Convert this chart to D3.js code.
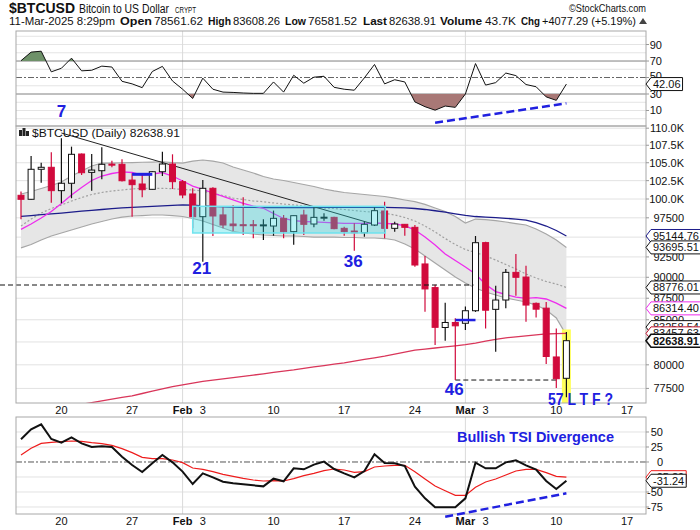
<!DOCTYPE html>
<html><head><meta charset="utf-8">
<script src="https://cdn.jsdelivr.net/npm/d3@7"></script>
<style>
body{margin:0;background:#fff}
svg{display:block}
text{font-family:"Liberation Sans",Arial,sans-serif;fill:#111}
.narrow{font-family:"Liberation Sans Narrow","Arial Narrow","Liberation Sans",Arial,sans-serif}
</style>
</head><body>
<svg id="chart" width="700" height="530"></svg>
<script>
// ---------------- DATA ----------------
const dates = ["2025-01-16","2025-01-17","2025-01-18","2025-01-19","2025-01-20","2025-01-21","2025-01-22","2025-01-23","2025-01-24","2025-01-25","2025-01-26","2025-01-27","2025-01-28","2025-01-29","2025-01-30","2025-01-31",
"2025-02-01","2025-02-02","2025-02-03","2025-02-04","2025-02-05","2025-02-06","2025-02-07","2025-02-08","2025-02-09","2025-02-10","2025-02-11","2025-02-12","2025-02-13","2025-02-14","2025-02-15","2025-02-16","2025-02-17","2025-02-18","2025-02-19","2025-02-20","2025-02-21","2025-02-22","2025-02-23","2025-02-24","2025-02-25","2025-02-26","2025-02-27","2025-02-28",
"2025-03-01","2025-03-02","2025-03-03","2025-03-04","2025-03-05","2025-03-06","2025-03-07","2025-03-08","2025-03-09","2025-03-10","2025-03-11"];
const open  = [100500,99960,104080,104360,101130,102140,106240,103650,103880,104800,104780,102580,102040,101310,103740,104820,102360,100680,97650,101450,97880,96690,96600,96600,96540,96430,97430,95700,97870,96690,97540,97560,96130,95780,95560,96560,98400,96130,96650,96260,91630,88760,84120,84690,84600,86040,94300,86200,87290,90600,90030,86900,86340,80850,78561.62];
const high  = [101000,105960,105010,106500,108520,107300,106300,106240,107210,105290,105500,103520,103420,103800,106550,106200,102580,101450,102580,101600,99060,99200,100230,97210,97300,98450,97870,97800,98580,98900,98090,97650,96350,96780,97040,98900,99640,97000,96700,96560,92620,89100,86970,85170,86520,95140,94400,88980,91000,92860,91420,87000,87070,84000,83608.26];
const low   = [97300,99900,102220,99500,99420,100100,103280,101130,102680,104360,102400,97650,100230,101300,103150,101350,100100,96130,91900,95140,96130,95780,95270,94850,94620,95180,94850,94040,95270,96260,97100,96000,95180,93280,95050,96430,94850,95700,95180,91300,85920,82160,82630,78380,83840,85900,84000,81420,86320,87800,84780,85250,80080,77530,76581.52];
const close = [99960,104080,104360,101130,102140,106200,103600,103970,104780,104760,102490,101950,101260,103740,104820,102360,100540,97650,101450,97740,96560,96470,96520,96540,96580,97430,95700,97780,96650,97560,97580,96090,95700,95560,96650,98440,96130,96690,96260,91500,88600,84140,84690,84310,86040,94290,86100,87290,90600,90000,86700,86220,80900,78520,82638.91];

const bbUpper  = [100680,101020,101430,101830,102320,103140,103840,104540,104960,104960,105000,105030,105070,105100,105140,105030,104960,105240,105390,105240,104960,104400,103980,103560,103070,102730,102520,102250,101970,101700,101360,101090,100880,100740,100610,100470,100340,100130,99870,99640,99270,98800,98330,97670,96820,97340,97270,97140,96950,96750,96560,96040,95400,94630,93695.51];
const bbMiddle = [96430,97340,98130,98730,99200,99730,100200,100610,100880,101090,101220,101360,101450,101450,101450,101400,101290,101220,101090,100740,100470,100130,99930,99730,99640,99470,99330,99200,99060,98930,98800,98730,98600,98460,98330,98230,98110,97870,97540,97080,96430,95660,94820,94060,93430,93050,92620,92120,91560,91010,90400,89910,89490,89190,88776.01];
const bbLower  = [93630,94060,94630,95140,95530,95910,96300,96690,97020,97340,97600,97740,97800,97870,97870,97800,97670,97410,97080,96620,96170,95720,95530,95400,95270,95210,95140,95140,95080,95010,95010,95010,94950,94950,94890,94890,94820,94630,94130,93500,92620,91750,90890,90040,89310,88710,88240,87880,87530,87290,87060,86700,86120,85200,83258.54];
const ema20    = [96000,96690,97480,98330,99400,100540,101560,102520,103140,103490,103730,103630,103280,103420,103600,103140,102450,101760,101290,100810,100340,99870,99400,99060,98760,98070,97410,97140,97020,96980,96910,96850,96780,96780,96780,96820,96780,96690,96490,95910,95010,94000,92870,92060,91260,90400,89130,88280,87940,87640,87480,87580,87410,86930,86314.40];
const sma50    = [97700,97800,97910,98010,98130,98260,98370,98490,98600,98700,98800,98880,98950,99010,99080,99150,99200,99170,99090,99010,98960,98900,98890,98880,98860,98850,98840,98840,98850,98860,98880,98890,98890,98890,98890,98890,98880,98850,98800,98730,98600,98430,98240,98030,97830,97670,97600,97520,97430,97340,97210,96880,96430,95850,95144.76];
const sma200   = [74820,75000,75170,75330,75520,75690,75860,76030,76210,76380,76560,76720,76970,77210,77460,77690,77880,78050,78230,78370,78500,78630,78770,78900,79040,79180,79320,79450,79610,79770,79920,80080,80220,80390,80580,80760,80940,81150,81370,81590,81710,81830,81960,82070,82200,82370,82580,82790,82960,83070,83180,83300,83390,83420,83457.63];

const rsi = [70.4,80.8,81.9,56.9,61.2,73.5,58.1,58.8,63.8,62.7,45.4,42.3,37.7,57.3,63.5,45.8,35.8,24.6,49.2,35.8,32.3,31.9,31.2,30.8,30.8,44.6,32.3,52.7,43.1,50.4,51.5,38.1,35.8,34.6,49.6,65.8,42.3,47.3,44.6,20.4,14.6,10.4,15.4,13.8,30.0,66.9,40.8,43.8,55.4,52.3,41.5,38.8,26.5,22.3,42.06];
const tsi = [37.8,54.4,62.8,38.3,32.2,41.1,31.1,25.0,26.1,25.0,8.9,-5.0,-16.7,-2.2,11.7,-0.6,-16.0,-36.7,-18.9,-25.6,-32.8,-35.6,-37.2,-38.9,-40.6,-27.8,-32.2,-10.6,-12.2,-4.4,0.6,-11.7,-18.9,-25.6,-15.0,12.8,-1.7,-2.2,-6.7,-41.1,-60.6,-75.6,-75.6,-75.6,-60.6,-1.1,-10.6,-10.6,-0.6,2.8,-5.6,-12.8,-31.7,-45.0,-31.24];
const tsiSignal = [11.7,22.8,31.1,32.8,33.9,35.0,34.4,32.2,30.6,27.8,22.2,15.6,7.8,5.6,5.6,3.3,-1.1,-10.0,-12.2,-16.1,-20.6,-23.9,-27.2,-30.0,-31.7,-31.1,-31.7,-27.8,-22.8,-18.9,-14.4,-11.7,-13.3,-17.2,-16.1,-8.3,-6.7,-5.6,-5.6,-16.1,-28.3,-40.0,-47.8,-55.6,-55.6,-42.2,-33.3,-28.3,-21.7,-15.0,-12.2,-12.2,-17.8,-23.9,-25.29];

const priceTicks = [77500,80000,82500,85000,87500,90000,92500,95000,97500,100000,102500,105000,107500,110000];
const priceTickLabels = ["77500","80000","82500","85000","87500","90000","92500","95000","97500","100.0K","102.5K","105.0K","107.5K","110.0K"];
const rsiGrid = [0,10,20,40,60,80,90,100];
const rsiTicks = [90,70,50,30,10];
const tsiTicks = [50,25,0,-25,-50,-75];
const weekTicks = ["2025-01-20","2025-01-27","2025-02-03","2025-02-10","2025-02-17","2025-02-24","2025-03-03","2025-03-10","2025-03-17"];
const weekTickLabels = ["20","27","3","10","17","24","3","10","17"];
const monthTicks = ["2025-02-01","2025-03-01"];
const monthTickLabels = ["Feb","Mar"];
const priceTags = [["95144.76",95144.76,"#1c1c8a"],["93695.51",93695.51,"#111"],["88776.01",88776.01,"#111"],["86314.40",86314.40,"#ee2cee"],["83258.54",83258.54,"#111"],["83457.63",83457.63,"#c0102a"],["82638.91",82638.91,"#111"]];
const tsiTags = [["-25.29",-25.29,"#ee1c1c"],["-31.24",-31.24,"#111"]];

// ---------------- LAYOUT ----------------
const L = 16, R = 646;
const RSI = [31,126], MAIN = [126,403], TSI = [417,514];
const parse = d3.utcParse("%Y-%m-%d");
const D = dates.map(parse);
const x = d3.scaleUtc().domain([D[0], D[D.length-1]]).range([21, 566.4]);
const yP = d3.scaleLog().domain([75993,110323]).range([MAIN[1], MAIN[0]]);
const yR = d3.scaleLinear().domain([-8.8,106.4]).range([RSI[1], RSI[0]]);
const yT = d3.scaleLinear().domain([-86.67,75]).range([TSI[1], TSI[0]]);
const BLUE = "#2020e0";

const svg = d3.select("#chart");
const defs = svg.append("defs");
function clip(id, y0, y1){
  defs.append("clipPath").attr("id",id).append("rect").attr("x",L).attr("y",y0).attr("width",R-L).attr("height",y1-y0);
}
clip("cR",RSI[0],RSI[1]); clip("cM",MAIN[0],MAIN[1]); clip("cT",TSI[0],TSI[1]);
defs.append("clipPath").attr("id","cRhi").append("rect").attr("x",L).attr("y",RSI[0]).attr("width",R-L).attr("height",yR(70)-RSI[0]);
defs.append("clipPath").attr("id","cRlo").append("rect").attr("x",L).attr("y",yR(30)).attr("width",R-L).attr("height",RSI[1]-yR(30));

function hline(g,y,color,dash,w){
  g.append("line").attr("x1",L).attr("x2",R).attr("y1",y).attr("y2",y)
   .attr("stroke",color).attr("stroke-width",w||1).attr("stroke-dasharray",dash||null);
}
function monthLines(g,y0,y1){
  monthTicks.forEach(m=>{ const xx=x(parse(m));
    g.append("line").attr("x1",xx).attr("x2",xx).attr("y1",y0).attr("y2",y1).attr("stroke","#dadada"); });
}
function tag(y, txt, color, bold){
  const g = svg.append("g");
  const t = g.append("text").attr("x",653).attr("y",y+4).attr("font-size",11)
    .attr("font-weight",bold?"bold":null).text(txt);
  const w = t.node().getComputedTextLength();
  g.insert("path","text").attr("d",`M646,${y}L651,${y-6.5}H${655+w}V${y+6.5}H651Z`)
    .attr("fill","#fff").attr("stroke",color).attr("stroke-width",bold?1.6:1);
}
const hiddenBy = (y, ys) => ys.some(t=>Math.abs(t-y)<5.5);
const xi = (d,i)=>x(D[i]);

// ---------------- HEADER ----------------
svg.append("text").attr("class","narrow").attr("x",9).attr("y",13).attr("font-size",15).attr("font-weight","bold")
  .attr("textLength",66).attr("lengthAdjust","spacingAndGlyphs").text("$BTCUSD");
svg.append("text").attr("class","narrow").attr("x",79).attr("y",13).attr("font-size",12)
  .attr("textLength",90).attr("lengthAdjust","spacingAndGlyphs").text("Bitcoin to US Dollar");
svg.append("text").attr("x",175).attr("y",13).attr("font-size",9)
  .attr("textLength",21).attr("lengthAdjust","spacingAndGlyphs").text("CRYPT");
svg.append("text").attr("class","narrow").attr("x",569).attr("y",12).attr("font-size",11).attr("fill","#333")
  .attr("textLength",77).attr("lengthAdjust","spacingAndGlyphs").text("©StockCharts.com");
const hdr = [
  ["11-Mar-2025 8:29pm",9,106,false],["Open",120,32,true],["78561.62",154,49,false],
  ["High",208,23,true],["83608.26",233,47,false],["Low",285,21,true],["76581.52",308,49,false],
  ["Last",363,24,true],["82638.91",389,47,false],["Volume",440,42,true],["43.7K",485,31,false],
  ["Chg",521,19,true],["+4077.29 (+5.19%)",542,94,false]];
hdr.forEach(h=>svg.append("text").attr("class","narrow").attr("x",h[1]).attr("y",25).attr("font-size",11)
  .attr("font-weight",h[3]?"bold":null).attr("textLength",h[2]).attr("lengthAdjust","spacingAndGlyphs").text(h[0]));
svg.append("path").attr("d","M639,24L643,18L647,24Z").attr("fill","#444");

// ---------------- RSI PANEL ----------------
const gR = svg.append("g");
rsiGrid.forEach(v=>hline(gR,yR(v),"#e4e4e4"));
monthLines(gR,RSI[0],RSI[1]);
hline(gR,yR(70),"#808080"); hline(gR,yR(30),"#808080");
hline(gR,yR(50),"#666","6,2,2,2");
const rsiArea = y0 => d3.area().x(xi).y0(y0).y1(d=>yR(d));
gR.append("path").attr("d",rsiArea(yR(70))(rsi)).attr("fill","#6e9169").attr("clip-path","url(#cRhi)");
gR.append("path").attr("d",rsiArea(yR(30))(rsi)).attr("fill","#a87876").attr("clip-path","url(#cRlo)");
gR.append("path").attr("d",d3.line().x(xi).y(d=>yR(d))(rsi)).attr("fill","none").attr("stroke","#111").attr("stroke-width",1).attr("clip-path","url(#cR)");
gR.append("rect").attr("x",L).attr("y",RSI[0]).attr("width",R-L).attr("height",RSI[1]-RSI[0]).attr("fill","none").attr("stroke","#a8a8a8");
rsiTicks.forEach(v=>{
  gR.append("text").attr("x",662).attr("y",yR(v)+(v===50?2.5:4)).attr("font-size",11).attr("text-anchor","end").text(v);
  gR.append("line").attr("x1",R).attr("x2",R+3).attr("y1",yR(v)).attr("y2",yR(v)).attr("stroke","#999");
});
gR.append("line").attr("x1",x(parse("2025-02-26"))).attr("y1",yR(-4.8)).attr("x2",x(parse("2025-03-11"))).attr("y2",yR(18.7))
  .attr("stroke",BLUE).attr("stroke-width",2.5).attr("stroke-dasharray","8,4");
gR.append("text").attr("x",x(parse("2025-01-20"))).attr("y",yR(2.1)).attr("text-anchor","middle")
  .attr("font-size",17).attr("font-weight","bold").style("fill",BLUE).text("7");
tag(yR(42.06),"42.06","#111",false);

// ---------------- MAIN PANEL ----------------
const gM = svg.append("g");
priceTicks.forEach(v=>hline(gM,yP(v),"#e2e2e2"));
monthLines(gM,MAIN[0],MAIN[1]);
const gMc = gM.append("g").attr("clip-path","url(#cM)");
gMc.append("path").attr("d",d3.area().x(xi).y0((d,i)=>yP(bbLower[i])).y1(d=>yP(d))(bbUpper)).attr("fill","#e6e6e6");
[bbUpper,bbLower].forEach(s=>gMc.append("path").attr("d",d3.line().x(xi).y(d=>yP(d))(s)).attr("fill","none").attr("stroke","#a6a6a6").attr("stroke-width",1.2));
gMc.append("path").attr("d",d3.line().x(xi).y(d=>yP(d))(bbMiddle)).attr("fill","none").attr("stroke","#a0a0a0").attr("stroke-width",1.2).attr("stroke-dasharray","2,2");
const lastX = x(D[D.length-1]);
gMc.append("rect").attr("x",lastX-4.5).attr("y",yP(83900)).attr("width",9).attr("height",MAIN[1]-yP(83900)).attr("fill","#ffff5c");
[[sma200,"#d9365a",1.3],[sma50,"#1c1c8a",1.3],[ema20,"#ee2cee",1.3]].forEach(s=>
  gMc.append("path").attr("d",d3.line().x(xi).y(d=>yP(d))(s[0])).attr("fill","none").attr("stroke",s[1]).attr("stroke-width",s[2]));
gMc.append("line").attr("x1",x(parse("2025-01-20"))).attr("y1",yP(109290)).attr("x2",x(parse("2025-02-20"))+2).attr("y2",yP(96560))
  .attr("stroke","#222").attr("stroke-width",1);
gM.append("line").attr("x1",0).attr("x2",x(parse("2025-03-02"))-2).attr("y1",yP(89070)).attr("y2",yP(89070))
  .attr("stroke","#111").attr("stroke-dasharray","5,3");
gMc.append("line").attr("x1",x(D[43])).attr("x2",x(D[53])).attr("y1",yP(low[43])).attr("y2",yP(low[43]))
  .attr("stroke","#111").attr("stroke-dasharray","5,3");
const RED = "#d10a3c";
D.forEach((d,i)=>{
  const xx = x(d), up = close[i] >= open[i], col = up ? "#111" : RED;
  gMc.append("line").attr("x1",xx).attr("x2",xx).attr("y1",yP(high[i])).attr("y2",yP(low[i])).attr("stroke",col).attr("stroke-width",1.2);
  const yt = yP(Math.max(open[i],close[i])), yb = yP(Math.min(open[i],close[i]));
  gMc.append("rect").attr("x",xx-3).attr("y",yt).attr("width",6).attr("height",Math.max(yb-yt,1))
    .attr("fill",up?"#fff":RED).attr("stroke",col).attr("stroke-width",1);
});
gMc.append("rect").attr("x",x(parse("2025-02-02"))).attr("y",yP(99020))
  .attr("width",x(parse("2025-02-21"))+0.7-x(parse("2025-02-02"))).attr("height",yP(95530)-yP(99020))
  .attr("fill","rgba(40,215,225,0.33)").attr("stroke","#6ee3ee").attr("stroke-width",1.5);
gMc.append("line").attr("x1",x(parse("2025-01-27"))).attr("x2",x(parse("2025-01-29"))).attr("y1",yP(103380)).attr("y2",yP(103380)).attr("stroke",BLUE).attr("stroke-width",3);
gMc.append("line").attr("x1",x(parse("2025-02-28"))).attr("x2",x(parse("2025-03-02"))).attr("y1",yP(84970)).attr("y2",yP(84970)).attr("stroke",BLUE).attr("stroke-width",2.5);
gM.append("rect").attr("x",L).attr("y",MAIN[0]).attr("width",R-L).attr("height",MAIN[1]-MAIN[0]).attr("fill","none").attr("stroke","#a8a8a8");
[["21","2025-02-03",90400],["36","2025-02-18",91260],["46","2025-02-28",76800]].forEach(c=>
  gM.append("text").attr("x",x(parse(c[1]))-1).attr("y",yP(c[2])).attr("text-anchor","middle").attr("font-size",17)
   .attr("font-weight","bold").style("fill",BLUE).text(c[0]));
gM.append("text").attr("x",548).attr("y",405).attr("font-size",16).attr("font-weight","bold").style("fill",BLUE)
  .attr("textLength",65).attr("lengthAdjust","spacingAndGlyphs").text("57 L T F ?");
const icon = gM.append("g");
[[19,130,3,6],[22.5,128,3,8],[26,131,3,5]].forEach(r=>icon.append("rect").attr("x",r[0]).attr("y",r[1]).attr("width",r[2]).attr("height",r[3]).attr("fill","#222"));
gM.append("text").attr("x",32).attr("y",137).attr("font-size",11).attr("font-family","DejaVu Sans")
  .attr("textLength",148).attr("lengthAdjust","spacingAndGlyphs").text("$BTCUSD (Daily) 82638.91");
const priceTagYs = priceTags.map(t=>yP(t[1]));
priceTicks.forEach((v,i)=>{
  gM.append("line").attr("x1",R).attr("x2",R+3).attr("y1",yP(v)).attr("y2",yP(v)).attr("stroke","#999");
  if (hiddenBy(yP(v), priceTagYs)) return;
  gM.append("text").attr("x",684).attr("y",yP(v)+4).attr("font-size",11).attr("text-anchor","end").text(priceTickLabels[i]);
});
priceTags.forEach(t=>tag(yP(t[1]) - (t[0]==="83258.54"?8:0), t[0], t[2], t[0]==="82638.91"));

// ---------------- X AXES ----------------
function xLabels(yb){
  weekTicks.forEach((t,i)=>svg.append("text").attr("x",x(parse(t))).attr("y",yb).attr("font-size",11).attr("text-anchor","middle").text(weekTickLabels[i]));
  monthTicks.forEach((t,i)=>svg.append("text").attr("x",x(parse(t))).attr("y",yb).attr("font-size",11).attr("font-weight","bold").attr("text-anchor","middle").text(monthTickLabels[i]));
}
xLabels(414); xLabels(525);

// ---------------- TSI PANEL ----------------
const gT = svg.append("g");
tsiTicks.filter(v=>v!==0).forEach(v=>hline(gT,yT(v),"#e2e2e2"));
monthLines(gT,TSI[0],TSI[1]);
hline(gT,yT(0),"#555","6,2,2,2");
const gTc = gT.append("g").attr("clip-path","url(#cT)");
gTc.append("path").attr("d",d3.line().x(xi).y(d=>yT(d))(tsiSignal)).attr("fill","none").attr("stroke","#ee1c1c").attr("stroke-width",1.2);
gTc.append("path").attr("d",d3.line().x(xi).y(d=>yT(d))(tsi)).attr("fill","none").attr("stroke","#111").attr("stroke-width",2);
gT.append("rect").attr("x",L).attr("y",TSI[0]).attr("width",R-L).attr("height",TSI[1]-TSI[0]).attr("fill","none").attr("stroke","#a8a8a8");
const tsiTagYs = tsiTags.map(t=>yT(t[1]));
tsiTicks.forEach(v=>{
  gT.append("line").attr("x1",R).attr("x2",R+3).attr("y1",yT(v)).attr("y2",yT(v)).attr("stroke","#999");
  if (hiddenBy(yT(v), tsiTagYs)) return;
  gT.append("text").attr("x",663).attr("y",yT(v)+4).attr("font-size",11).attr("text-anchor","end").text(v);
});
gT.append("line").attr("x1",x(parse("2025-02-27"))).attr("y1",yT(-91.2)).attr("x2",x(parse("2025-03-11"))).attr("y2",yT(-52.2))
  .attr("stroke",BLUE).attr("stroke-width",2.5).attr("stroke-dasharray","8,4");
gT.append("text").attr("x",457).attr("y",441.5).attr("font-size",14.5).attr("font-weight","bold").style("fill",BLUE)
  .attr("textLength",157).attr("lengthAdjust","spacingAndGlyphs").text("Bullish TSI Divergence");
tsiTags.forEach(t=>tag(yT(t[1]), t[0], t[2], false));
</script>
</body></html>
